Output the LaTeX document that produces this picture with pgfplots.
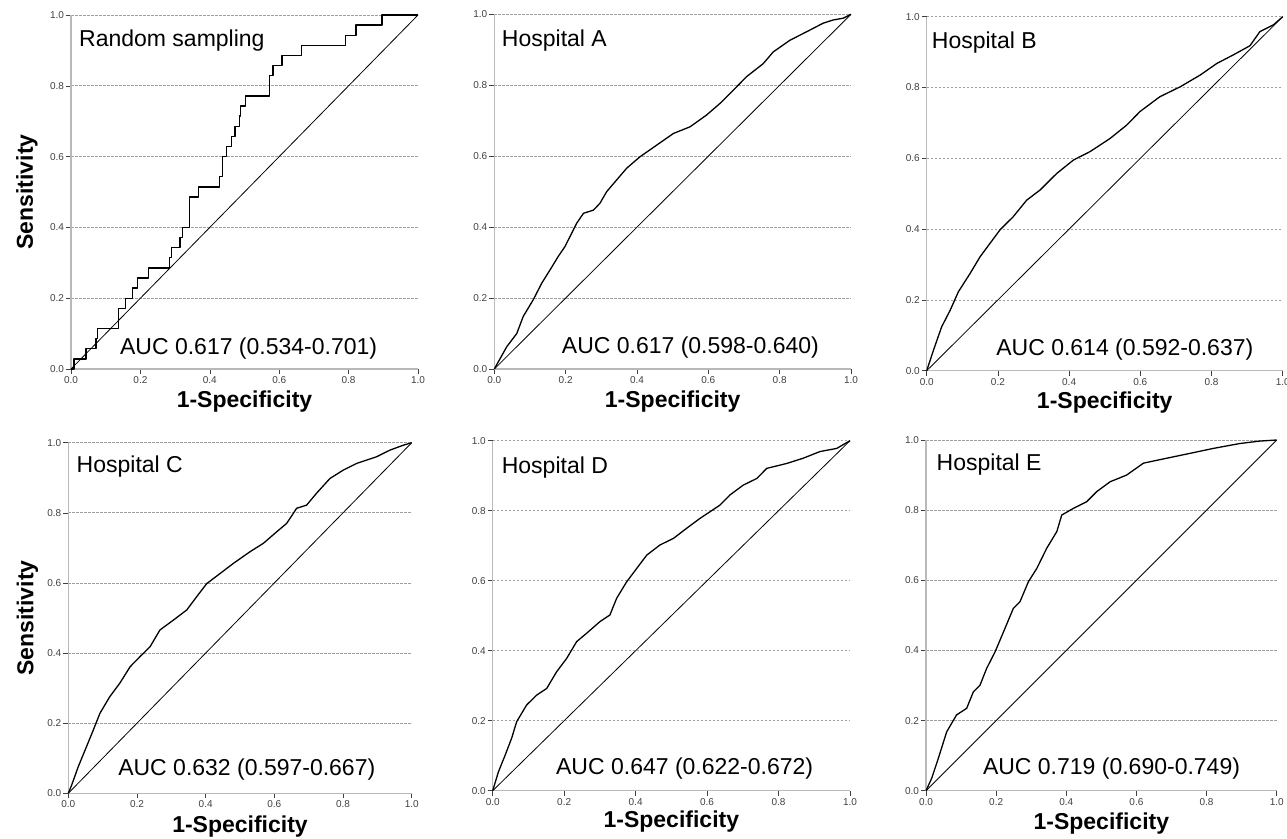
\documentclass[border=0pt]{standalone}
\usepackage{pgfplots}
\pgfplotsset{compat=1.18}
\usepackage{fontspec}
\setmainfont{Liberation Sans}
\newcommand{\bigfnt}{\fontsize{23}{27}\selectfont}
\pgfplotsset{
  roc/.style={
    scale only axis, clip=false,
    xmin=0, xmax=1, ymin=0, ymax=1,
    axis x line*=bottom, axis y line*=left,
    axis line style={-, gray!55, line width=1.3pt},
    xtick={0,0.2,0.4,0.6,0.8,1}, ytick={0,0.2,0.4,0.6,0.8,1},
    tick align=outside, major tick length=5pt,
    tick style={black!75, line width=0.6pt},
    ymajorgrids,
    grid style={gray!75, line width=0.7pt, dash pattern=on 2.5pt off 1.5pt},
    tick label style={font=\fontsize{10}{11}\selectfont, text=black!75},
    xticklabel style={yshift=1pt},
    yticklabel style={xshift=1.5pt},
    /pgf/number format/.cd, fixed, fixed zerofill, precision=1, assume math mode=true,
  },
  curve/.style={black, line width=1.3pt, line join=round},
  diag/.style={black, line width=0.8pt},
}
\begin{document}
\begin{tikzpicture}
\useasboundingbox (0,0) rectangle (1287pt,-838pt);

% ---------- Panel 1 ----------
\begin{axis}[roc, at={(71pt,-369pt)}, anchor=south west, width=347pt, height=354pt]
\addplot[diag] coordinates {(0,0) (1,1)};
\addplot[curve] coordinates {(0,0) (0.009,0) (0.009,0.0286) (0.043,0.0286) (0.043,0.0571) (0.072,0.0571) (0.072,0.0857) (0.077,0.0857) (0.077,0.1143) (0.137,0.1143) (0.137,0.1714) (0.157,0.1714) (0.157,0.2) (0.177,0.2) (0.177,0.2286) (0.191,0.2286) (0.191,0.2571) (0.223,0.2571) (0.223,0.2857) (0.284,0.2857) (0.284,0.3143) (0.290,0.3143) (0.290,0.3429) (0.314,0.3429) (0.314,0.3714) (0.322,0.3714) (0.322,0.4) (0.341,0.4) (0.341,0.4857) (0.367,0.4857) (0.367,0.5143) (0.427,0.5143) (0.427,0.5429) (0.437,0.5429) (0.437,0.6) (0.449,0.6) (0.449,0.6286) (0.463,0.6286) (0.463,0.6571) (0.473,0.6571) (0.473,0.6857) (0.485,0.6857) (0.485,0.7143) (0.489,0.7143) (0.489,0.7429) (0.502,0.7429) (0.502,0.7714) (0.572,0.7714) (0.572,0.8286) (0.582,0.8286) (0.582,0.8571) (0.608,0.8571) (0.608,0.8857) (0.665,0.8857) (0.665,0.9143) (0.792,0.9143) (0.792,0.9429) (0.821,0.9429) (0.821,0.9714) (0.896,0.9714) (0.896,1) (1,1)};
\node[anchor=base west, inner sep=0pt, font=\bigfnt] at (rel axis cs:0.023,0.912) {Random sampling};
\node[anchor=base west, inner sep=0pt, font=\bigfnt] at (rel axis cs:0.141,0.040) {AUC 0.617 (0.534-0.701)};
\node[anchor=base, inner sep=0pt, font=\bigfnt\bfseries, yshift=-38pt] at (rel axis cs:0.5,0) {1-Specificity};
\node[anchor=base, inner sep=0pt, font=\bigfnt\bfseries, rotate=90, yshift=38pt] at (rel axis cs:0,0.5) {Sensitivity};
\end{axis}

% ---------- Panel 2 ----------
\begin{axis}[roc, at={(494.3pt,-369pt)}, anchor=south west, width=356.7pt, height=354.7pt]
\addplot[diag] coordinates {(0,0) (1,1)};
\addplot[curve] coordinates {(0,0) (0.035,0.063) (0.063,0.100) (0.081,0.148) (0.109,0.195) (0.133,0.242) (0.156,0.279) (0.179,0.317) (0.198,0.345) (0.217,0.383) (0.231,0.411) (0.250,0.439) (0.278,0.448) (0.296,0.467) (0.315,0.500) (0.343,0.533) (0.371,0.566) (0.408,0.598) (0.455,0.631) (0.502,0.664) (0.549,0.683) (0.595,0.716) (0.633,0.749) (0.670,0.786) (0.707,0.824) (0.754,0.861) (0.782,0.894) (0.829,0.927) (0.876,0.951) (0.922,0.975) (0.950,0.984) (0.978,0.989) (1,1)};
\node[anchor=base west, inner sep=0pt, font=\bigfnt] at (rel axis cs:0.021,0.909) {Hospital A};
\node[anchor=base west, inner sep=0pt, font=\bigfnt] at (rel axis cs:0.189,0.044) {AUC 0.617 (0.598-0.640)};
\node[anchor=base, inner sep=0pt, font=\bigfnt\bfseries, yshift=-38pt] at (rel axis cs:0.5,0) {1-Specificity};
\end{axis}

% ---------- Panel 3 ----------
\begin{axis}[roc, at={(926.7pt,-370.7pt)}, anchor=south west, width=356pt, height=354pt]
\addplot[diag] coordinates {(0,0) (1,1)};
\addplot[curve] coordinates {(0,0) (0.019,0.058) (0.042,0.124) (0.066,0.171) (0.089,0.223) (0.122,0.275) (0.150,0.322) (0.178,0.360) (0.206,0.398) (0.243,0.435) (0.281,0.482) (0.318,0.510) (0.365,0.557) (0.412,0.595) (0.459,0.619) (0.515,0.656) (0.562,0.694) (0.599,0.732) (0.655,0.774) (0.712,0.802) (0.768,0.835) (0.815,0.868) (0.861,0.892) (0.908,0.918) (0.936,0.958) (0.974,0.977) (1,1)};
\node[anchor=base west, inner sep=0pt, font=\bigfnt] at (rel axis cs:0.014,0.911) {Hospital B};
\node[anchor=base west, inner sep=0pt, font=\bigfnt] at (rel axis cs:0.195,0.044) {AUC 0.614 (0.592-0.637)};
\node[anchor=base, inner sep=0pt, font=\bigfnt\bfseries, yshift=-38pt] at (rel axis cs:0.5,0) {1-Specificity};
\end{axis}

% ---------- Panel 4 ----------
\begin{axis}[roc, at={(68.3pt,-793.3pt)}, anchor=south west, width=343.4pt, height=350.6pt]
\addplot[diag] coordinates {(0,0) (1,1)};
\addplot[curve] coordinates {(0,0) (0.010,0.024) (0.029,0.076) (0.053,0.133) (0.073,0.181) (0.092,0.228) (0.121,0.276) (0.150,0.314) (0.180,0.361) (0.209,0.390) (0.238,0.418) (0.267,0.466) (0.306,0.494) (0.345,0.523) (0.374,0.561) (0.403,0.598) (0.442,0.627) (0.481,0.656) (0.529,0.689) (0.568,0.713) (0.607,0.746) (0.636,0.770) (0.665,0.813) (0.694,0.822) (0.723,0.856) (0.762,0.898) (0.801,0.922) (0.840,0.941) (0.898,0.960) (0.937,0.979) (0.976,0.993) (1,1)};
\node[anchor=base west, inner sep=0pt, font=\bigfnt] at (rel axis cs:0.024,0.914) {Hospital C};
\node[anchor=base west, inner sep=0pt, font=\bigfnt] at (rel axis cs:0.145,0.052) {AUC 0.632 (0.597-0.667)};
\node[anchor=base, inner sep=0pt, font=\bigfnt\bfseries, yshift=-39pt] at (rel axis cs:0.5,0) {1-Specificity};
\node[anchor=base, inner sep=0pt, font=\bigfnt\bfseries, rotate=90, yshift=35pt] at (rel axis cs:0,0.5) {Sensitivity};
\end{axis}

% ---------- Panel 5 ----------
\begin{axis}[roc, at={(492.7pt,-790.7pt)}, anchor=south west, width=357.3pt, height=350pt]
\addplot[diag] coordinates {(0,0) (1,1)};
\addplot[curve] coordinates {(0,0) (0.016,0.054) (0.035,0.102) (0.053,0.150) (0.067,0.197) (0.095,0.245) (0.123,0.273) (0.151,0.292) (0.179,0.340) (0.207,0.378) (0.235,0.426) (0.263,0.450) (0.300,0.483) (0.328,0.502) (0.347,0.550) (0.375,0.597) (0.403,0.635) (0.431,0.673) (0.468,0.702) (0.506,0.721) (0.543,0.750) (0.580,0.778) (0.636,0.816) (0.664,0.845) (0.701,0.873) (0.739,0.892) (0.767,0.921) (0.823,0.935) (0.869,0.950) (0.916,0.969) (0.963,0.978) (1,1)};
\node[anchor=base west, inner sep=0pt, font=\bigfnt] at (rel axis cs:0.025,0.907) {Hospital D};
\node[anchor=base west, inner sep=0pt, font=\bigfnt] at (rel axis cs:0.177,0.047) {AUC 0.647 (0.622-0.672)};
\node[anchor=base, inner sep=0pt, font=\bigfnt\bfseries, yshift=-37pt] at (rel axis cs:0.5,0) {1-Specificity};
\end{axis}

% ---------- Panel 6 ----------
\begin{axis}[roc, at={(926pt,-790.7pt)}, anchor=south west, width=350.7pt, height=350.7pt]
\addplot[diag] coordinates {(0,0) (1,1)};
\addplot[curve] coordinates {(0,0) (0.016,0.035) (0.035,0.092) (0.059,0.168) (0.087,0.216) (0.116,0.235) (0.135,0.282) (0.154,0.301) (0.173,0.349) (0.197,0.396) (0.221,0.453) (0.249,0.520) (0.268,0.539) (0.292,0.596) (0.316,0.634) (0.344,0.691) (0.373,0.739) (0.387,0.786) (0.420,0.805) (0.458,0.824) (0.487,0.853) (0.525,0.881) (0.572,0.900) (0.620,0.934) (0.686,0.948) (0.753,0.962) (0.819,0.976) (0.895,0.990) (0.952,0.997) (1,1)};
\node[anchor=base west, inner sep=0pt, font=\bigfnt] at (rel axis cs:0.030,0.914) {Hospital E};
\node[anchor=base west, inner sep=0pt, font=\bigfnt] at (rel axis cs:0.162,0.045) {AUC 0.719 (0.690-0.749)};
\node[anchor=base, inner sep=0pt, font=\bigfnt\bfseries, yshift=-39pt] at (rel axis cs:0.5,0) {1-Specificity};
\end{axis}
\end{tikzpicture}
\end{document}
